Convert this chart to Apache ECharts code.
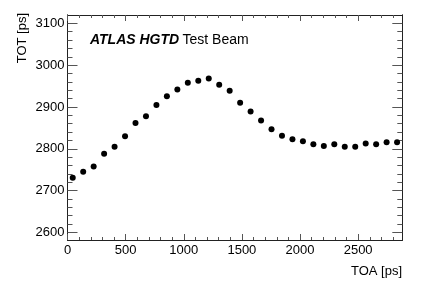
<!DOCTYPE html>
<html>
<head>
<meta charset="utf-8">
<script src="https://cdn.jsdelivr.net/npm/echarts@6/dist/echarts.min.js"></script>
<style>html,body{margin:0;padding:0;background:#fff;}#c{width:424px;height:287px;}</style>
</head>
<body>
<div id="c"></div>
<script>
// TOA bin centres [ps]
var toa = [45,135,225,315,405,495,585,675,765,855,945,1035,1125,1215,1305,1395,
           1485,1575,1665,1755,1845,1935,2025,2115,2205,2295,2385,2475,2565,2655,2745,2835];
// TOT values [ps]
var tot = [2731,2745,2758,2788,2805,2830,2862,2878,2905,2926,2942,2958,2963,2968,2953,2939,
           2910,2889,2868,2847,2831,2823,2818,2811,2807,2811,2805,2805,2813,2811,2816,2816];
var xTicks = [0,500,1000,1500,2000,2500];
var yTicks = [2600,2700,2800,2900,3000,3100];
var xRange = [0, 2880];
var yRange = [2582, 3120];

var xMinor = [], yMinor = [];
for (var v = 100; v < xRange[1]; v += 100) if (v % 500 !== 0) xMinor.push(v);
for (var w = 2600; w < yRange[1]; w += 20) if (w % 100 !== 0) yMinor.push(w);

var font = 'Liberation Sans, Arial, Helvetica, sans-serif';
var gridRect = {left: 67.5, right: 21.7, top: 15, bottom: 47};
var lineStyle = {color: '#222', width: 1};
var tickStyle = {color: '#555', width: 1};
function plain(val) { return String(val); }

function xAx(gridIndex, pos, ticks, len, labels) {
  return {
    type: 'value', gridIndex: gridIndex, position: pos, min: xRange[0], max: xRange[1],
    axisLine: {show: true, onZero: false, lineStyle: lineStyle},
    axisTick: {show: true, inside: true, length: len, customValues: ticks, lineStyle: tickStyle},
    axisLabel: labels ? {show: true, customValues: xTicks, formatter: plain, color: '#000', fontFamily: font, fontSize: 13, margin: 4} : {show: false},
    splitLine: {show: false}
  };
}
function yAx(gridIndex, pos, ticks, len, labels) {
  return {
    type: 'value', gridIndex: gridIndex, position: pos, min: yRange[0], max: yRange[1],
    axisLine: {show: true, onZero: false, lineStyle: lineStyle},
    axisTick: {show: true, inside: true, length: len, customValues: ticks, lineStyle: tickStyle},
    axisLabel: labels ? {show: true, customValues: yTicks, formatter: plain, color: '#000', fontFamily: font, fontSize: 13, margin: 3} : {show: false},
    splitLine: {show: false}
  };
}

var data = toa.map(function (t, i) { return [t, tot[i]]; });

var chart = echarts.init(document.getElementById('c'), null, {renderer: 'canvas'});
chart.setOption({
  animation: false,
  backgroundColor: '#fff',
  grid: [
    Object.assign({}, gridRect),
    Object.assign({}, gridRect)
  ],
  xAxis: [
    xAx(0, 'bottom', xTicks, 6, true),
    xAx(0, 'top', xTicks, 6, false),
    xAx(1, 'bottom', xMinor, 3, false),
    xAx(1, 'top', xMinor, 3, false)
  ],
  yAxis: [
    yAx(0, 'left', yTicks, 10, true),
    yAx(0, 'right', yTicks, 10, false),
    yAx(1, 'left', yMinor, 5, false),
    yAx(1, 'right', yMinor, 5, false)
  ],
  series: [{
    type: 'scatter', xAxisIndex: 0, yAxisIndex: 0,
    symbol: 'circle', symbolSize: 6,
    itemStyle: {color: '#000', opacity: 1},
    data: data
  }],
  graphic: [
    {type: 'text', left: 90, top: 33,
     style: {text: '{b|ATLAS HGTD} {n|Test Beam}', fontFamily: font,
       rich: {b: {fontWeight: 'bold', fontStyle: 'italic', fontSize: 14, fontFamily: font, fill: '#000'},
              n: {fontSize: 14, fontFamily: font, fill: '#000'}}}},
    {type: 'text', x: 402, y: 271,
     style: {text: 'TOA [ps]', fontFamily: font, fontSize: 13, fill: '#000', align: 'right', verticalAlign: 'middle'}},
    {type: 'text', x: 22, y: 13, rotation: Math.PI / 2,
     style: {text: 'TOT [ps]', fontFamily: font, fontSize: 13, fill: '#000', align: 'right', verticalAlign: 'middle'}}
  ]
});
</script>
</body>
</html>
